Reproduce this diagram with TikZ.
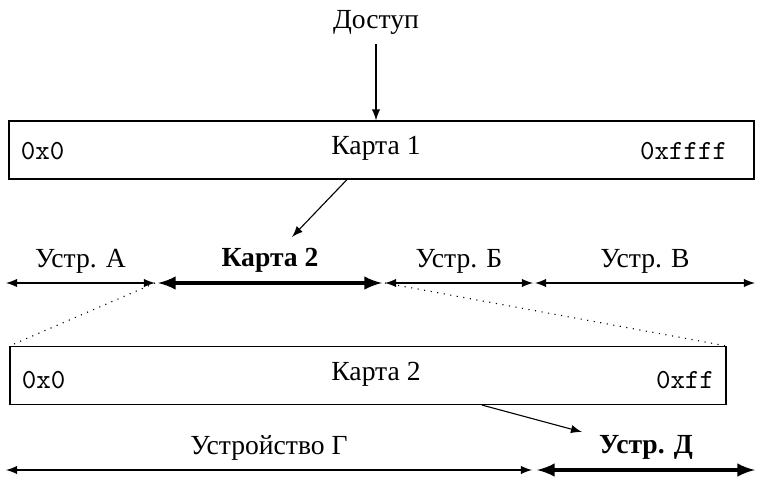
\documentclass[tikz,border=0pt]{standalone}
\usepackage{fontspec}
\setmainfont{Liberation Serif}
\usetikzlibrary{arrows.meta, positioning, calc}
\tikzset{
  mapbox/.style={draw, thin, minimum height=21pt, inner sep=0pt},
  addr/.style={font=\ttfamily},
  devline/.style={latex-latex, thin},
  devsel/.style={latex-latex, very thick},
  devlbl/.style={midway, above},
}

\begin{document}
\begin{tikzpicture}[x=0.362pt, y=-0.362pt, >=latex]
  \useasboundingbox (0,0) rectangle (758,477);

  % Доступ
  \node (access) at (376,22) {Доступ};

  % Карта 1
  \node[mapbox, minimum width=269.7pt] (map1) at (381.5,150) {};
  \node (map1lbl) at (376,148) {Карта 1};
  \node[addr, anchor=west] (map1lo) at (11,151) {0x0};
  \node[addr, anchor=east] (map1hi) at (737,151) {0xffff};
  \draw[->] (access) -- (access |- map1.north);

  % устройства первого уровня
  \coordinate (a0) at (6,283);   \coordinate (a1) at (155,283);
  \coordinate (k0) at (158,283); \coordinate (k1) at (382,283);
  \coordinate (b0) at (385,283); \coordinate (b1) at (533,283);
  \coordinate (v0) at (535,283); \coordinate (v1) at (755,283);
  \draw[devline] (a0) -- (a1) node[devlbl] (devA) {Устр. А};
  \draw[devsel]  (k0) -- (k1) node[devlbl] (devK) {\bfseries Карта 2};
  \draw[devline] (b0) -- (b1) node[devlbl] (devB) {Устр. Б};
  \draw[devline] (v0) -- (v1) node[devlbl] (devV) {Устр. В};

  \coordinate (to2) at (292,237);
  \draw[->] (map1.south -| 347,0) -- (to2);

  % Карта 2
  \node[mapbox, minimum width=259.2pt] (map2) at (368,375.5) {};
  \node (map2lbl) at (376,374) {Карта 2};
  \node[addr, anchor=west] (map2lo) at (12,380) {0x0};
  \node[addr, anchor=east] (map2hi) at (724,380) {0xff};
  \draw[dotted] (a1) -- (map2.north west);
  \draw[dotted] (b0) -- (map2.north east);

  % устройства второго уровня
  \coordinate (g0) at (6,470);   \coordinate (g1) at (532,470);
  \coordinate (d0) at (537,470); \coordinate (d1) at (755,470);
  \draw[devline] (g0) -- (g1) node[devlbl] (devG) {Устройство Г};
  \draw[devsel]  (d0) -- (d1) node[devlbl] (devD) {\bfseries Устр. Д};

  \coordinate (toD) at (582,432);
  \draw[->] (map2.south -| 482,0) -- (toD);
\end{tikzpicture}
\end{document}
